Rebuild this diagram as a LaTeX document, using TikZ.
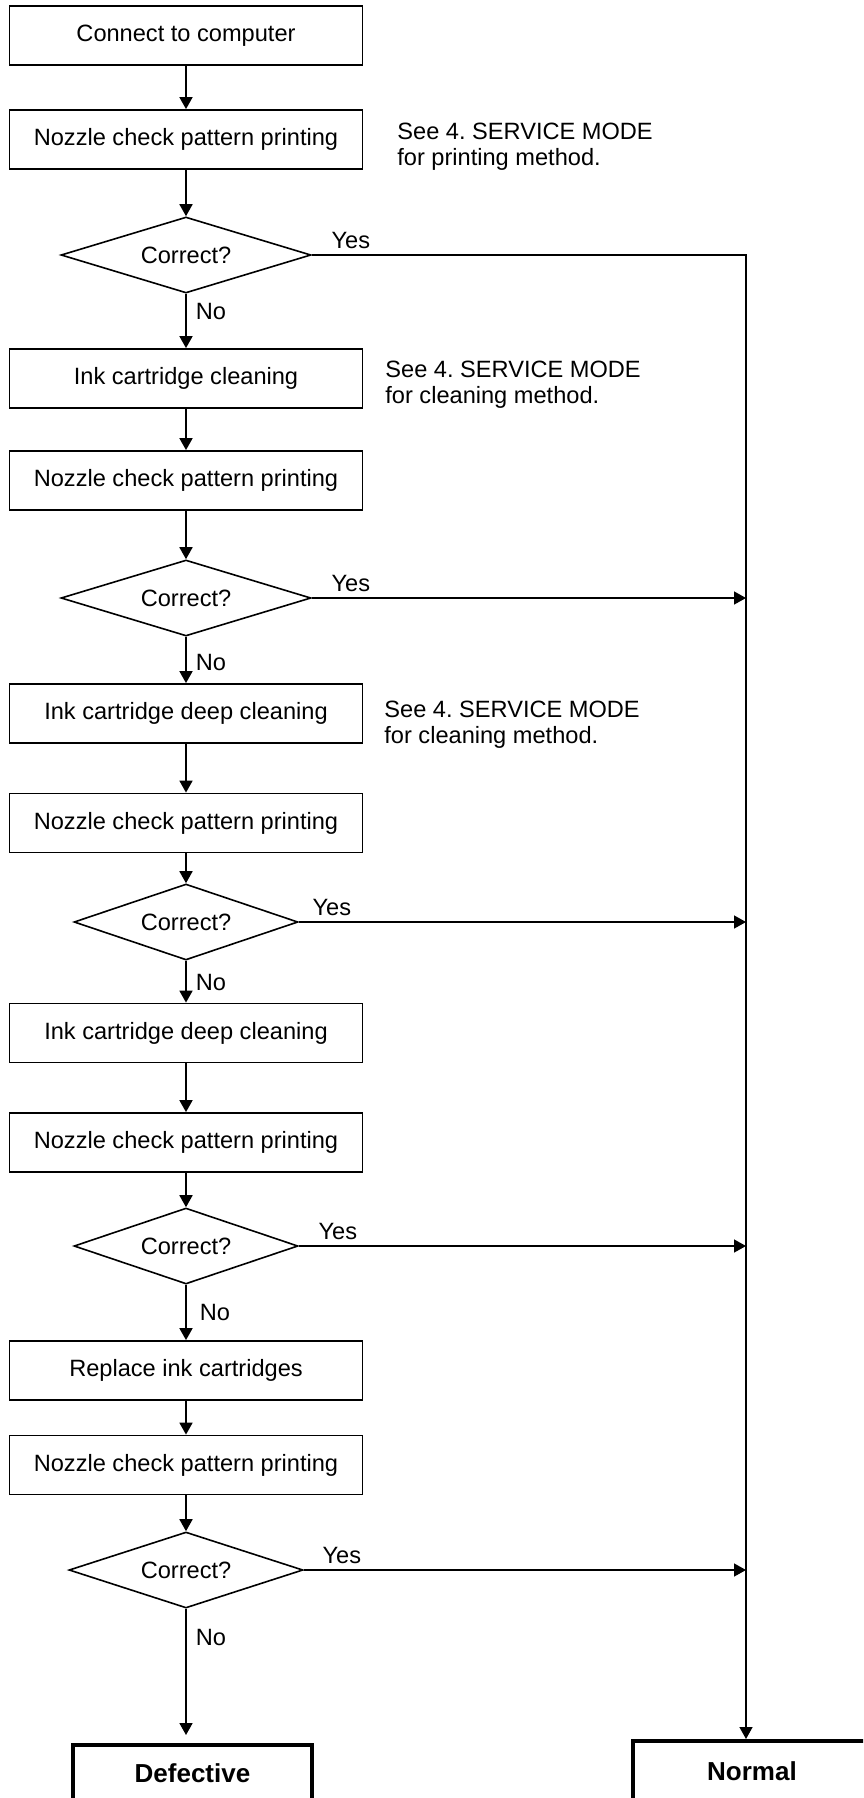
\documentclass[tikz,border=0pt]{standalone}
\usepackage{fontspec}
\setmainfont{Liberation Sans}
\frenchspacing
\usetikzlibrary{positioning,shapes.geometric,arrows.meta}
\tikzset{
  procbox/.style={draw, line width=0.9pt, minimum width=176.5pt, minimum height=29.5pt, inner sep=0pt, font=\fontsize{11.8}{13}\selectfont},
  decision/.style={draw, diamond, aspect=3, line width=0.8pt, minimum width=125pt, minimum height=38pt, inner sep=0pt, font=\fontsize{11.8}{13}\selectfont},
  endbox/.style={draw, line width=2pt, minimum width=119.5pt, minimum height=28pt, font=\fontsize{13}{15}\selectfont\bfseries},
  note/.style={anchor=west, align=left, inner sep=0pt, font=\fontsize{11.8}{13}\selectfont},
  arr/.style={line width=0.9pt, -{Triangle[length=6pt,width=6.5pt]}},
  yesline/.style={line width=0.75pt},
  yeslbl/.style={anchor=south west, inner sep=0pt, xshift=9.5pt, yshift=2.8pt, font=\fontsize{11.8}{13}\selectfont},
  nolbl/.style={anchor=west, inner sep=0pt, xshift=4.5pt, font=\fontsize{11.8}{13}\selectfont}
}
\begin{document}
\begin{tikzpicture}[x=0.5pt,y=-0.5pt]
\useasboundingbox (0,0) rectangle (863,1798);
\clip (0,0) rectangle (863,1798);
% main column
\node[procbox] (b1) at (186,35.5) {Connect to computer};
\node[procbox] (b2) at (186,139.5) {Nozzle check pattern printing};
\node[decision] (d1) at (186,255) {Correct?};
\node[procbox] (b3) at (186,378.5) {Ink cartridge cleaning};
\node[procbox] (b4) at (186,480.5) {Nozzle check pattern printing};
\node[decision] (d2) at (186,598) {Correct?};
\node[procbox] (b5) at (186,713.5) {Ink cartridge deep cleaning};
\node[procbox] (b6) at (186,823) {Nozzle check pattern printing};
\node[decision, minimum width=112pt] (d3) at (186,922) {Correct?};
\node[procbox] (b7) at (186,1033) {Ink cartridge deep cleaning};
\node[procbox] (b8) at (186,1142.5) {Nozzle check pattern printing};
\node[decision, minimum width=112pt] (d4) at (186,1246) {Correct?};
\node[procbox] (b9) at (186,1370.5) {Replace ink cartridges};
\node[procbox] (b10) at (186,1465) {Nozzle check pattern printing};
\node[decision, minimum width=117pt] (d5) at (186,1570) {Correct?};
\node[endbox] (dfct) at (192.5,1773) {Defective};
\node[endbox, minimum width=119pt, minimum height=30pt] (nrml) at (752,1771) {Normal};
% notes
\node[note] (n1) at (397,147) {See 4. SERVICE MODE\\for printing method.};
\node[note] (n2) at (385,385) {See 4. SERVICE MODE\\for cleaning method.};
\node[note] (n3) at (384,725) {See 4. SERVICE MODE\\for cleaning method.};
\coordinate (rail) at (746,255);
% flow
\draw[arr] (b1) -- (b2);
\draw[arr] (b2) -- (d1);
\draw[arr] (d1) -- node[nolbl,pos=0.33]{No} (b3);
\draw[arr] (b3) -- (b4);
\draw[arr] (b4) -- (d2);
\draw[arr] (d2) -- node[nolbl,pos=0.56]{No} (b5);
\draw[arr] (b5) -- (b6);
\draw[arr] (b6) -- (d3);
\draw[arr] (d3) -- node[nolbl,pos=0.53]{No} (b7);
\draw[arr] (b7) -- (b8);
\draw[arr] (b8) -- (d4);
\draw[arr] (d4) -- node[nolbl,pos=0.5,xshift=2pt]{No} (b9);
\draw[arr] (b9) -- (b10);
\draw[arr] (b10) -- (d5);
\draw[arr,shorten >=4pt] (d5) -- node[nolbl,pos=0.21]{No} (d5 |- dfct.north);
% yes branches
\draw[arr,yesline] (d1.east) node[yeslbl]{Yes} -- (rail) -- (rail |- nrml.north);
\draw[arr,yesline] (d2.east) node[yeslbl]{Yes} -- (d2 -| rail);
\draw[arr,yesline] (d3.east) node[yeslbl,xshift=-3pt]{Yes} -- (d3 -| rail);
\draw[arr,yesline] (d4.east) node[yeslbl]{Yes} -- (d4 -| rail);
\draw[arr,yesline] (d5.east) node[yeslbl,xshift=-0.5pt]{Yes} -- (d5 -| rail);
\end{tikzpicture}
\end{document}
